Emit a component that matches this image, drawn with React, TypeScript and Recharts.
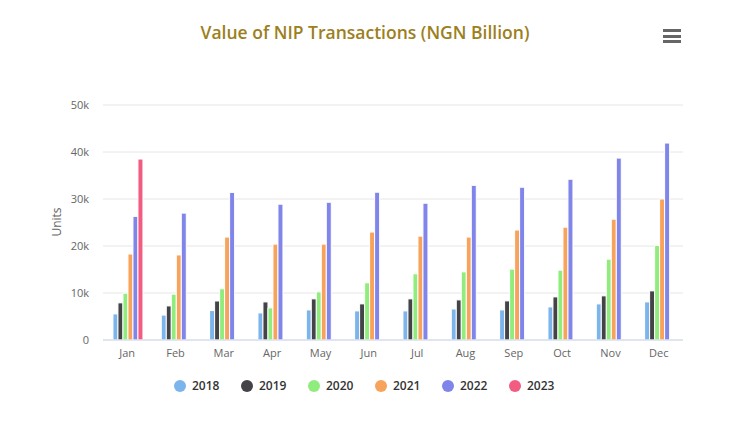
import { BarChart, Bar, XAxis, YAxis, CartesianGrid } from "recharts";

const months = ["Jan", "Feb", "Mar", "Apr", "May", "Jun", "Jul", "Aug", "Sep", "Oct", "Nov", "Dec"];

// values in NGN billion
const v2018 = [5550, 5300, 6260, 5760, 6400, 6190, 6190, 6600, 6400, 7040, 7680, 8100];
const v2019 = [7900, 7250, 8300, 8100, 8750, 7680, 8750, 8530, 8320, 9170, 9390, 10450];
const v2020 = [9960, 9750, 10900, 6830, 10240, 12160, 14080, 14500, 15080, 14860, 17200, 20100];
const v2021 = [18300, 18100, 21900, 20400, 20400, 22970, 22100, 21900, 23400, 24000, 25700, 30000];
const v2022 = [26300, 27000, 31400, 28900, 29300, 31440, 29100, 32900, 32500, 34200, 38700, 41900];
const v2023 = [38500, null, null, null, null, null, null, null, null, null, null, null];

const yTicks = [0, 10000, 20000, 30000, 40000, 50000];

const series = [
  { key: "y2018", name: "2018", color: "#7cb5ec" },
  { key: "y2019", name: "2019", color: "#434348" },
  { key: "y2020", name: "2020", color: "#90ed7d" },
  { key: "y2021", name: "2021", color: "#f7a35c" },
  { key: "y2022", name: "2022", color: "#8085e9" },
  { key: "y2023", name: "2023", color: "#f15c80" },
];

const data = months.map((m, i) => ({
  month: m,
  y2018: v2018[i],
  y2019: v2019[i],
  y2020: v2020[i],
  y2021: v2021[i],
  y2022: v2022[i],
  y2023: v2023[i],
}));

const font = "'Open Sans', 'DejaVu Sans', sans-serif";

function LegendRow() {
  return (
    <div style={{ display: "flex", justifyContent: "center", fontFamily: font }}>
      {series.map((s) => (
        <div
          key={s.key}
          style={{ display: "flex", alignItems: "center", width: 67, fontSize: 12, fontWeight: 600, color: "#333" }}
        >
          <span
            style={{ width: 12, height: 12, borderRadius: 6, background: s.color, marginRight: 6, display: "inline-block" }}
          />
          {s.name}
        </div>
      ))}
    </div>
  );
}

export default function App() {
  return (
    <div style={{ position: "absolute", left: 0, top: 0, width: 750, height: 423, background: "#fff" }}>
      <div
        style={{
          position: "absolute",
          top: 20,
          left: 0,
          width: 730,
          textAlign: "center",
          fontFamily: font,
          fontSize: 17.5,
          fontWeight: 600,
          color: "#9d7f1d",
        }}
      >
        Value of NIP Transactions (NGN Billion)
      </div>
      <div style={{ position: "absolute", left: 663, top: 29, width: 18 }}>
        {[0, 1, 2].map((i) => (
          <div key={i} style={{ height: 3, background: "#666", marginBottom: 2.5 }} />
        ))}
      </div>
      <BarChart
        width={750}
        height={423}
        data={data}
        margin={{ top: 105, right: 67, bottom: 53, left: 43 }}
        barCategoryGap="20.6%"
        barGap={0}
      >
        <CartesianGrid vertical={false} stroke="#e6e6e6" />
        <XAxis
          dataKey="month"
          height={30}
          tickLine={false}
          axisLine={{ stroke: "#ccd6eb" }}
          tickSize={0}
          tickMargin={9}
          tick={{ fill: "#666", fontSize: 11, fontFamily: font }}
        />
        <YAxis
          width={60}
          domain={[0, 50000]}
          ticks={yTicks}
          axisLine={false}
          tickLine={false}
          tickSize={0}
          tickMargin={14}
          tickFormatter={(v: number) => (v === 0 ? "0" : `${v / 1000}k`)}
          tick={{ fill: "#666", fontSize: 11, fontFamily: font }}
          label={{
            content: () => (
              <text
                x={61}
                y={222}
                transform="rotate(-90 61 222)"
                textAnchor="middle"
                fill="#666"
                fontSize={12}
                fontFamily={font}
              >
                Units
              </text>
            ),
          }}
        />
        {series.map((s) => (
          <Bar
            key={s.key}
            dataKey={s.key}
            name={s.name}
            fill={s.color}
            stroke="#fff"
            strokeWidth={1}
            isAnimationActive={false}
          />
        ))}
      </BarChart>
      <div style={{ position: "absolute", top: 377, left: 0, width: 750 }}>
        <LegendRow />
      </div>
    </div>
  );
}
